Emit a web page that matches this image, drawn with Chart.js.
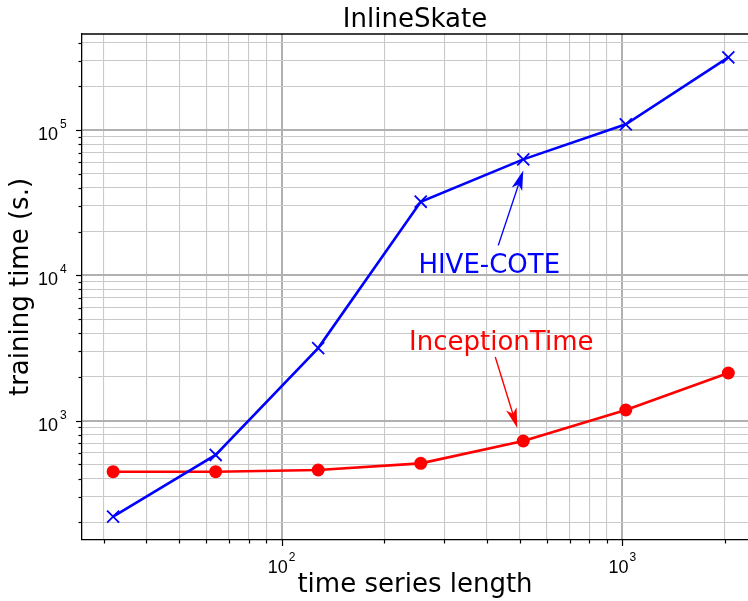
<!DOCTYPE html>
<html><head><meta charset="utf-8">
<script src="https://cdn.jsdelivr.net/npm/chart.js@4/dist/chart.umd.min.js"></script>
<style>html,body{margin:0;padding:0;background:#fff;overflow:hidden}#wrap{width:748px;height:601px}</style>
</head><body><div id="wrap"><canvas id="c" width="748" height="601"></canvas></div>
<script>
// ---- data ----
const lengths = [32, 64, 128, 256, 512, 1024, 2048];
const hiveCoteTime = [219, 581, 3160, 32100, 62800, 109400, 316000];
const inceptionTimeTime = [446, 446, 458, 509, 725, 1185, 2130];
const seriesNames = ['HIVE-COTE', 'InceptionTime'];
const xDecadeExponents = [2, 3];
const yDecadeExponents = [3, 4, 5];
const chartTitle = 'InlineSkate';
const xAxisTitle = 'time series length';
const yAxisTitle = 'training time (s.)';

// ---- styling / layout ----
const X_MIN = 25.93, X_MAX = 2339, Y_MIN = 151.1, Y_MAX = 457700;
const BLUE = '#0000ff', RED = '#ff0000';
const TEXT_FONT = "'DejaVu Sans', sans-serif";
const TICK_FONT = "'Liberation Sans', Arial, sans-serif";

function tickKind(v) {
  const e = Math.floor(Math.log10(v) + 1e-9);
  const m = v / Math.pow(10, e);
  const r = Math.round(m);
  if (Math.abs(m - r) > 1e-6) return 0;
  return r === 1 ? 2 : 1;
}
const gridColor = (c) => { const k = tickKind(c.tick.value); return k === 2 ? '#b0b0b0' : (k === 1 ? '#c9c9c9' : 'rgba(0,0,0,0)'); };
const gridWidth = (c) => tickKind(c.tick.value) === 2 ? 2 : 1.1;

const annotations = [
  {ds: 0, idx: 4, text: seriesNames[0], color: BLUE, textDx: -34, textDy: 114, fromDx: -25, fromDy: 86, tipDx: 0, tipDy: 11},
  {ds: 1, idx: 4, text: seriesNames[1], color: RED, textDx: -22, textDy: -91, fromDx: -28, fromDy: -84, tipDx: -6, tipDy: -13}
];

const decorPlugin = {
  id: 'decor',
  afterDatasetsDraw(chart) {
    const ctx = chart.ctx;
    const ca = chart.chartArea;
    ctx.save();
    ctx.strokeStyle = '#000'; ctx.lineWidth = 1.3;
    ctx.beginPath(); ctx.moveTo(ca.left, ca.top); ctx.lineTo(ca.right, ca.top); ctx.stroke();
    annotations.forEach(a => {
      const el = chart.getDatasetMeta(a.ds).data[a.idx];
      const px = el.x, py = el.y;
      ctx.fillStyle = a.color; ctx.strokeStyle = a.color;
      ctx.font = '26px ' + TEXT_FONT;
      ctx.textAlign = 'center'; ctx.textBaseline = 'alphabetic';
      ctx.fillText(a.text, px + a.textDx, py + a.textDy);
      const x0 = px + a.fromDx, y0 = py + a.fromDy, x1 = px + a.tipDx, y1 = py + a.tipDy;
      const dx = x1 - x0, dy = y1 - y0, L = Math.hypot(dx, dy);
      const ux = dx / L, uy = dy / L, nx = -uy, ny = ux;
      const hl = 20, hw = 5.5, notch = 15;
      ctx.lineWidth = 1.4;
      ctx.beginPath(); ctx.moveTo(x0, y0); ctx.lineTo(x1 - ux * notch, y1 - uy * notch); ctx.stroke();
      ctx.beginPath();
      ctx.moveTo(x1, y1);
      ctx.lineTo(x1 - ux * hl + nx * hw, y1 - uy * hl + ny * hw);
      ctx.lineTo(x1 - ux * notch, y1 - uy * notch);
      ctx.lineTo(x1 - ux * hl - nx * hw, y1 - uy * hl - ny * hw);
      ctx.closePath(); ctx.fill();
    });
    ctx.restore();
  },
  afterDraw(chart) {
    const ctx = chart.ctx;
    const ca = chart.chartArea;
    const xs = chart.scales.x, ys = chart.scales.y;
    ctx.save();
    ctx.strokeStyle = '#000'; ctx.lineWidth = 1.2;
    xs.ticks.forEach(t => {
      const k = tickKind(t.value); if (!k) return;
      const p = Math.round(xs.getPixelForValue(t.value)) + 0.5;
      const len = k === 2 ? 6 : 3.5;
      ctx.beginPath(); ctx.moveTo(p, ca.bottom); ctx.lineTo(p, ca.bottom + len); ctx.stroke();
    });
    ys.ticks.forEach(t => {
      const k = tickKind(t.value); if (!k) return;
      const p = Math.round(ys.getPixelForValue(t.value)) + 0.5;
      const len = k === 2 ? 6 : 3.5;
      ctx.beginPath(); ctx.moveTo(ca.left, p); ctx.lineTo(ca.left - len, p); ctx.stroke();
    });
    ctx.fillStyle = '#000'; ctx.textBaseline = 'alphabetic';
    const mainF = '18px ' + TICK_FONT, expF = '12px ' + TICK_FONT;
    xDecadeExponents.forEach(e => {
      const p = xs.getPixelForValue(Math.pow(10, e));
      ctx.font = mainF; const w1 = ctx.measureText('10').width;
      ctx.font = expF; const w2 = ctx.measureText(String(e)).width;
      const left = p - (w1 + 1 + w2) / 2;
      const base = ca.bottom + 33;
      ctx.textAlign = 'left';
      ctx.font = mainF; ctx.fillText('10', left, base);
      ctx.font = expF; ctx.fillText(String(e), left + w1 + 1, base - 12);
    });
    yDecadeExponents.forEach(e => {
      const p = ys.getPixelForValue(Math.pow(10, e));
      const base = p + 10;
      ctx.font = mainF; ctx.textAlign = 'right'; ctx.fillText('10', 58, base);
      ctx.font = expF; ctx.textAlign = 'left'; ctx.fillText(String(e), 60, base - 12);
    });
    ctx.restore();
  }
};

new Chart(document.getElementById('c'), {
  type: 'line',
  data: {
    datasets: [
      {
        label: seriesNames[0],
        data: lengths.map((x, i) => ({x, y: hiveCoteTime[i]})),
        borderColor: BLUE, backgroundColor: BLUE, borderWidth: 2.6,
        pointStyle: 'crossRot', pointRadius: 8.5, pointBorderWidth: 1.8,
        pointBorderColor: BLUE, tension: 0, order: 0
      },
      {
        label: seriesNames[1],
        data: lengths.map((x, i) => ({x, y: inceptionTimeTime[i]})),
        borderColor: RED, backgroundColor: RED, borderWidth: 2.6,
        pointStyle: 'circle', pointRadius: 6.5, pointBorderWidth: 0,
        pointBackgroundColor: RED, tension: 0, order: 1
      }
    ]
  },
  options: {
    responsive: false, animation: false,
    layout: {padding: 0, autoPadding: false},
    plugins: {
      legend: {display: false},
      tooltip: {enabled: false},
      title: {
        display: true, text: chartTitle, fullSize: false, color: '#000',
        font: {family: TEXT_FONT, size: 26, weight: 'normal', lineHeight: 1},
        padding: {top: 7, bottom: 1}
      }
    },
    scales: {
      x: {
        type: 'logarithmic', min: X_MIN, max: X_MAX,
        afterFit: (s) => { s.height = 61; },
        grid: {color: gridColor, lineWidth: gridWidth, drawTicks: false},
        border: {display: true, color: '#000', width: 1.3},
        ticks: {display: false},
        title: {display: true, text: xAxisTitle, color: '#000',
          font: {family: TEXT_FONT, size: 26, weight: 'normal', lineHeight: 1.2},
          padding: {top: 0, bottom: 0}}
      },
      y: {
        type: 'logarithmic', min: Y_MIN, max: Y_MAX,
        afterFit: (s) => { s.width = 82; },
        grid: {color: gridColor, lineWidth: gridWidth, drawTicks: false},
        border: {display: true, color: '#000', width: 1.3},
        ticks: {display: false},
        title: {display: true, text: yAxisTitle, color: '#000',
          font: {family: TEXT_FONT, size: 26, weight: 'normal', lineHeight: 1.2},
          padding: {top: 6, bottom: 0}}
      }
    }
  },
  plugins: [decorPlugin]
});
</script></body></html>
